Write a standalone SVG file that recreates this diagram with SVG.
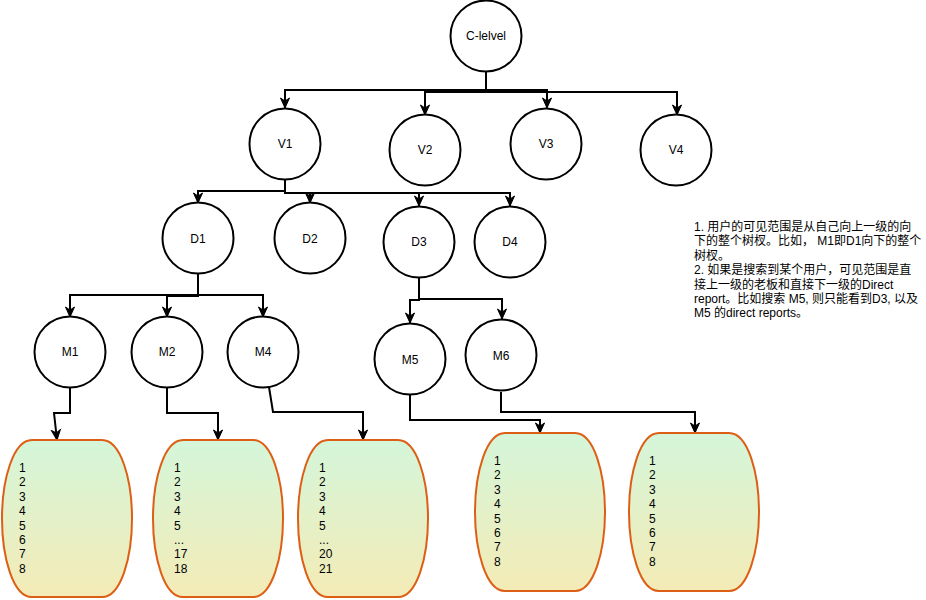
<svg xmlns="http://www.w3.org/2000/svg" width="926" height="600" viewBox="0 0 926 600">
  <defs>
    <linearGradient id="lg" x1="0" y1="0" x2="0" y2="1">
      <stop offset="0" stop-color="#d4f6da"/>
      <stop offset="1" stop-color="#f4ebb6"/>
    </linearGradient>
    <marker id="arr" markerUnits="userSpaceOnUse" markerWidth="12" markerHeight="12" viewBox="0 0 12 12" refX="11" refY="6" orient="auto">
      <path d="M1,1.5 L11,6 L1,10.5 L4,6 Z" fill="#000" stroke="#000" stroke-width="1"/>
    </marker>
    <path id="blob" d="M30,0 L100,0 C119,0 130,40 130,79 C130,118 119,158 100,158 L30,158 C11,158 0,118 0,79 C0,40 11,0 30,0 Z"/>
  </defs>
  <style>
    .node circle { fill: #fff; stroke: #000; stroke-width: 2; }
    .lbl { font-family: "Liberation Sans", Arial, sans-serif; font-size: 12px; fill: #000; text-anchor: middle; }
    .list use { fill: url(#lg); stroke: #dd5f16; stroke-width: 2; }
    .lt { font-family: "Liberation Sans", Arial, sans-serif; font-size: 12px; fill: #000; }
    .note { font-family: "Liberation Sans", Arial, "Noto Sans CJK SC", sans-serif; font-size: 12px; fill: #000; }
    #connectors path { fill: none; stroke: #000; stroke-width: 2; marker-end: url(#arr); }
  </style>

  <g id="connectors">
    <path d="M486,72 V90 H285 V108"/>
    <path d="M486,72 V92 H425 V115"/>
    <path d="M486,72 V90 H547 V108"/>
    <path d="M486,72 V92 H677 V115"/>
    <path d="M285,180 V191 H198 V203"/>
    <path d="M285,180 V193 H310 V203"/>
    <path d="M285,180 V193 H419 V206"/>
    <path d="M285,180 V193 H510 V206"/>
    <path d="M198,274 V295 H70 V317"/>
    <path d="M198,274 V296 H167 V317"/>
    <path d="M198,274 V295 H263 V317"/>
    <path d="M419,277 V300 H410 V323"/>
    <path d="M419,277 V299 H502 V319"/>
    <path d="M70,387 V413 H54 L57,440"/>
    <path d="M167,387 V413 H218 V440"/>
    <path d="M269,387 L273,412 H363 V440"/>
    <path d="M410,395 V420 H540 V433"/>
    <path d="M501,392 V412 H695 V433"/>
  </g>

  <g id="node-C" class="node"><circle cx="486" cy="36" r="35.5"/><text class="lbl" x="486" y="40">C-lelvel</text></g>
  <g id="node-V1" class="node"><circle cx="285" cy="144" r="35.5"/><text class="lbl" x="285" y="148">V1</text></g>
  <g id="node-V2" class="node"><circle cx="425" cy="150" r="35.5"/><text class="lbl" x="425" y="154">V2</text></g>
  <g id="node-V3" class="node"><circle cx="546" cy="144" r="35.5"/><text class="lbl" x="546" y="148">V3</text></g>
  <g id="node-V4" class="node"><circle cx="676" cy="150" r="35.5"/><text class="lbl" x="676" y="154">V4</text></g>
  <g id="node-D1" class="node"><circle cx="198" cy="238" r="35.5"/><text class="lbl" x="198" y="243">D1</text></g>
  <g id="node-D2" class="node"><circle cx="310" cy="238" r="35.5"/><text class="lbl" x="310" y="243">D2</text></g>
  <g id="node-D3" class="node"><circle cx="419" cy="242" r="35.5"/><text class="lbl" x="419" y="246">D3</text></g>
  <g id="node-D4" class="node"><circle cx="510" cy="242" r="35.5"/><text class="lbl" x="510" y="246">D4</text></g>
  <g id="node-M1" class="node"><circle cx="70" cy="352" r="35.5"/><text class="lbl" x="70" y="356">M1</text></g>
  <g id="node-M2" class="node"><circle cx="167" cy="352" r="35.5"/><text class="lbl" x="167" y="356">M2</text></g>
  <g id="node-M4" class="node"><circle cx="263" cy="352" r="35.5"/><text class="lbl" x="263" y="356">M4</text></g>
  <g id="node-M5" class="node"><circle cx="410" cy="359" r="35.5"/><text class="lbl" x="410" y="364">M5</text></g>
  <g id="node-M6" class="node"><circle cx="501" cy="355" r="35.5"/><text class="lbl" x="501" y="360">M6</text></g>

  <g id="list-M1" class="list" transform="translate(2,440) scale(1,0.994)">
    <use href="#blob"/>
  </g>
  <text class="lt" x="19" y="472"><tspan x="19">1</tspan><tspan x="19" dy="14.4">2</tspan><tspan x="19" dy="14.4">3</tspan><tspan x="19" dy="14.4">4</tspan><tspan x="19" dy="14.4">5</tspan><tspan x="19" dy="14.4">6</tspan><tspan x="19" dy="14.4">7</tspan><tspan x="19" dy="14.4">8</tspan></text>

  <g id="list-M2" class="list" transform="translate(153,440) scale(1,0.994)">
    <use href="#blob"/>
  </g>
  <text class="lt" x="174" y="472"><tspan x="174">1</tspan><tspan x="174" dy="14.4">2</tspan><tspan x="174" dy="14.4">3</tspan><tspan x="174" dy="14.4">4</tspan><tspan x="174" dy="14.4">5</tspan><tspan x="174" dy="14.4">...</tspan><tspan x="174" dy="14.4">17</tspan><tspan x="174" dy="14.4">18</tspan></text>

  <g id="list-M4" class="list" transform="translate(298,440) scale(1,0.994)">
    <use href="#blob"/>
  </g>
  <text class="lt" x="319" y="472"><tspan x="319">1</tspan><tspan x="319" dy="14.4">2</tspan><tspan x="319" dy="14.4">3</tspan><tspan x="319" dy="14.4">4</tspan><tspan x="319" dy="14.4">5</tspan><tspan x="319" dy="14.4">...</tspan><tspan x="319" dy="14.4">20</tspan><tspan x="319" dy="14.4">21</tspan></text>

  <g id="list-M5" class="list" transform="translate(475,433)">
    <use href="#blob"/>
  </g>
  <text class="lt" x="494" y="465"><tspan x="494">1</tspan><tspan x="494" dy="14.4">2</tspan><tspan x="494" dy="14.4">3</tspan><tspan x="494" dy="14.4">4</tspan><tspan x="494" dy="14.4">5</tspan><tspan x="494" dy="14.4">6</tspan><tspan x="494" dy="14.4">7</tspan><tspan x="494" dy="14.4">8</tspan></text>

  <g id="list-M6" class="list" transform="translate(629,433)">
    <use href="#blob"/>
  </g>
  <text class="lt" x="649" y="465"><tspan x="649">1</tspan><tspan x="649" dy="14.4">2</tspan><tspan x="649" dy="14.4">3</tspan><tspan x="649" dy="14.4">4</tspan><tspan x="649" dy="14.4">5</tspan><tspan x="649" dy="14.4">6</tspan><tspan x="649" dy="14.4">7</tspan><tspan x="649" dy="14.4">8</tspan></text>

  <g id="note">
    <text class="note" x="694" y="231">1. 用户的可见范围是从自己向上一级的向</text>
    <text class="note" x="694" y="245.4">下的整个树杈。比如， M1即D1向下的整个</text>
    <text class="note" x="694" y="259.8">树杈。</text>
    <text class="note" x="694" y="274.2">2. 如果是搜索到某个用户，可见范围是直</text>
    <text class="note" x="694" y="288.6">接上一级的老板和直接下一级的Direct</text>
    <text class="note" x="694" y="303">report。比如搜索 M5, 则只能看到D3, 以及</text>
    <text class="note" x="694" y="317.4">M5 的direct reports。</text>
  </g>
</svg>
